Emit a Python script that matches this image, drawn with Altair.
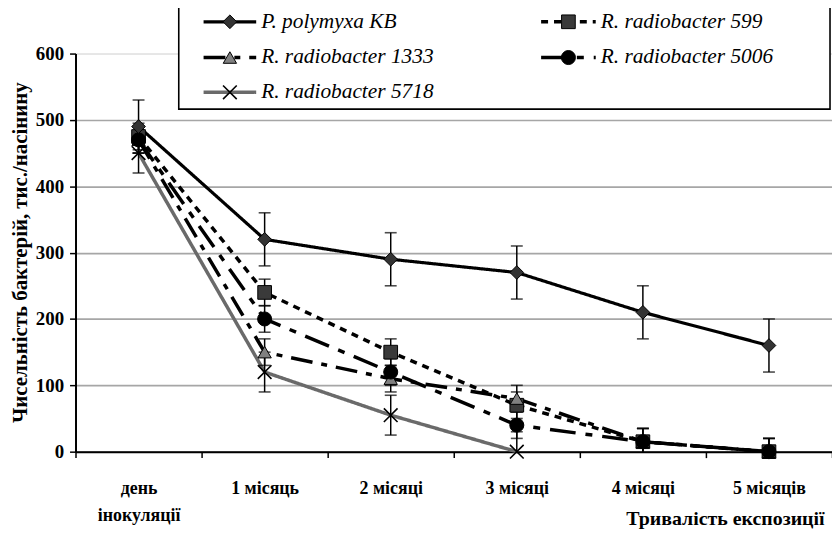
import altair as alt
import pandas as pd

# ---------------- data ----------------
categories = ["день\nінокуляції", "1 місяць", "2 місяці", "3 місяці", "4 місяці", "5 місяців"]
series_names = ["P. polymyxa KB", "R. radiobacter 599", "R. radiobacter 1333",
                "R. radiobacter 5006", "R. radiobacter 5718"]

polymyxa = [490, 320, 290, 270, 210, 160]
polymyxa_err = [40, 40, 40, 40, 40, 40]
r599 = [475, 240, 150, 70, 15, 0]
r599_err = [20, 20, 20, 20, 20, 20]
r1333 = [470, 150, 110, 80, 15, 0]
r1333_err = [20, 20, 20, 20, 20, 20]
r5006 = [470, 200, 120, 40, 15, 0]
r5006_err = [20, 20, 20, 20, 20, 20]
r5718 = [450, 120, 55, 0]
r5718_err = [30, 30, 30, 30]

values = {
    "P. polymyxa KB": (polymyxa, polymyxa_err),
    "R. radiobacter 599": (r599, r599_err),
    "R. radiobacter 1333": (r1333, r1333_err),
    "R. radiobacter 5006": (r5006, r5006_err),
    "R. radiobacter 5718": (r5718, r5718_err),
}

rows = []
for name in series_names:
    vals, errs = values[name]
    for c, v, e in zip(categories, vals, errs):
        rows.append({"series": name, "cat": c, "val": v,
                     "lo": max(0, v - e), "hi": v + e})
df = pd.DataFrame(rows)

# ---------------- styles ----------------
XPATH = "M-1,-1L1,1M-1,1L1,-1"
styles = {
    "P. polymyxa KB": dict(color="#000000", dash=[1, 0], width=3.2, shape="diamond",
                           fill="#333333", size=190, filled=True),
    "R. radiobacter 599": dict(color="#000000", dash=[7, 6], width=3.5, shape="square",
                               fill="#3a3a3a", size=190, filled=True),
    "R. radiobacter 1333": dict(color="#000000", dash=[22, 9, 6, 9], width=3.5, shape="triangle-up",
                                fill="#808080", size=180, filled=True),
    "R. radiobacter 5006": dict(color="#000000", dash=[26, 10, 7, 10], width=3.5, shape="circle",
                                fill="#000000", size=200, filled=True),
    "R. radiobacter 5718": dict(color="#6a6a6a", dash=[1, 0], width=3.5, shape=XPATH,
                                fill="none", size=190, filled=False),
}

FONT = "Liberation Serif"

W, H = 762, 401

xscale = alt.Scale(type="band", domain=categories, paddingInner=0, paddingOuter=0)
xaxis = alt.Axis(
    title="Тривалість експозиції", titleFont=FONT, titleFontSize=20, titleFontWeight="bold",
    titleColor="black", titleAnchor="end", titleAlign="right", titleX=W - 8, titleY=57,
    titleBaseline="top",
    labelFont=FONT, labelFontSize=18, labelFontWeight="bold", labelColor="black",
    labelAngle=0, labelPadding=22, labelBaseline="top", labelLineHeight=27,
    labelExpr="split(datum.label, '\\n')",
    tickBand="extent", tickSize=6, tickColor="black", tickWidth=1.5,
    domainColor="black", domainWidth=2, grid=False,
)
X = alt.X("cat:N", sort=categories, scale=xscale, axis=xaxis)

yscale = alt.Scale(domain=[0, 600], nice=False, zero=True)
yaxis = alt.Axis(
    title="Чисельність бактерій, тис./насінину", titleFont=FONT, titleFontSize=21,
    titleFontWeight="bold", titleColor="black", titleX=-66, titleY=200,
    titleAlign="center", titleBaseline="top", titleAngle=-90,
    values=[0, 100, 200, 300, 400, 500, 600],
    labelFont=FONT, labelFontSize=19, labelFontWeight="bold", labelColor="black",
    labelPadding=6, tickSize=6, tickColor="black", tickWidth=1.5,
    domainColor="black", domainWidth=2,
    grid=True, gridWidth=1.6,
    gridColor={"condition": {"test": "datum.value === 600", "value": "#e4e4e4"}, "value": "#a6a6a6"},
)


def Y(field):
    return alt.Y(f"{field}:Q", scale=yscale, axis=yaxis)


lines, bars, points = [], [], []
for name in series_names:
    d = df[df.series == name]
    st = styles[name]
    lines.append(
        alt.Chart(d).mark_line(color=st["color"], strokeWidth=st["width"], strokeDash=st["dash"])
        .encode(x=X, y=Y("val"))
    )
    bars.append(
        alt.Chart(d).mark_rule(color="black", strokeWidth=1.5).encode(x=X, y=Y("lo"), y2="hi:Q")
    )
    bars.append(alt.Chart(d).mark_tick(color="black", size=12, thickness=1.6).encode(x=X, y=Y("hi")))
    bars.append(
        alt.Chart(d[d.lo > 0]).mark_tick(color="black", size=12, thickness=1.6).encode(x=X, y=Y("lo"))
    )

point_order = ["R. radiobacter 599", "R. radiobacter 1333", "R. radiobacter 5006",
               "R. radiobacter 5718", "P. polymyxa KB"]
for name in point_order:
    d = df[df.series == name]
    st = styles[name]
    if st["filled"]:
        mk = alt.Chart(d).mark_point(shape=st["shape"], filled=True, fill=st["fill"], stroke="black",
                                     strokeWidth=1, size=st["size"], opacity=1)
    else:
        mk = alt.Chart(d).mark_point(shape=st["shape"], filled=False, stroke="black",
                                     strokeWidth=1.6, size=st["size"], opacity=1)
    points.append(mk.encode(x=X, y=Y("val")))

# ---------------- manual legend (pixel layout relative to plot origin) ----------------
dummy = pd.DataFrame({"a": [0]})
legend_layers = [
    alt.Chart(dummy).mark_rect(fill="white", stroke="black", strokeWidth=1.6).encode(
        x=alt.value(104), x2=alt.value(W - 2), y=alt.value(-50), y2=alt.value(56))
]
leg_pos = {
    "P. polymyxa KB": (129, 182, -32),
    "R. radiobacter 599": (469, 524, -32),
    "R. radiobacter 1333": (129, 182, 4),
    "R. radiobacter 5006": (469, 524, 4),
    "R. radiobacter 5718": (129, 182, 39),
}
for name in series_names:
    st = styles[name]
    x0, x1, yy = leg_pos[name]
    legend_layers.append(
        alt.Chart(dummy).mark_rule(color=st["color"], strokeWidth=st["width"], strokeDash=st["dash"])
        .encode(x=alt.value(x0), x2=alt.value(x1), y=alt.value(yy))
    )
    if st["filled"]:
        mk = alt.Chart(dummy).mark_point(shape=st["shape"], filled=True, fill=st["fill"], stroke="black",
                                         strokeWidth=1, size=st["size"], opacity=1)
    else:
        mk = alt.Chart(dummy).mark_point(shape=st["shape"], filled=False, stroke="black",
                                         strokeWidth=1.6, size=st["size"], opacity=1)
    legend_layers.append(mk.encode(x=alt.value((x0 + x1) / 2), y=alt.value(yy)))
    legend_layers.append(
        alt.Chart(dummy).mark_text(align="left", baseline="middle", font=FONT, fontStyle="italic",
                                   fontSize=21.5, color="black")
        .encode(x=alt.value(x1 + 5), y=alt.value(yy), text=alt.value(name))
    )

chart = alt.layer(*lines, *bars, *points, *legend_layers).properties(
    width=W, height=H,
    autosize=alt.AutoSizeParams(type="none"),
    padding={"left": 68, "top": 44, "right": 0, "bottom": 76},
).configure_view(stroke=None).configure(background="white")

chart.save("out.html", embed_options={"renderer": "svg", "actions": False})
